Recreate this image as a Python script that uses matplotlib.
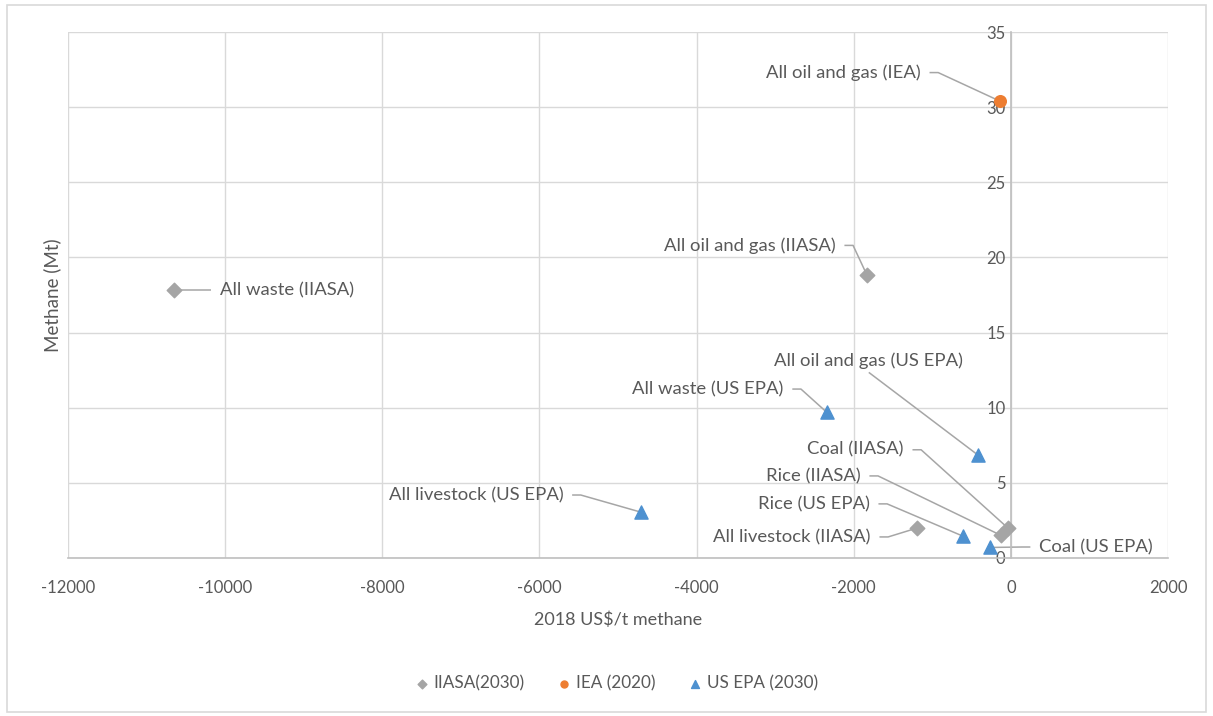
import matplotlib
matplotlib.use("Agg")
import matplotlib.pyplot as plt
from matplotlib.patches import Rectangle

plt.rcParams['font.family'] = ['Lato', 'DejaVu Sans']
plt.rcParams['axes.unicode_minus'] = False

# Abatement cost (2018 US$/t methane) and potential (Mt methane)
iiasa_labels = ["All waste (IIASA)", "All oil and gas (IIASA)", "All livestock (IIASA)",
                "Coal (IIASA)", "Rice (IIASA)"]
iiasa_cost = [-10650, -1830, -1190, -40, -125]
iiasa_mt = [17.8, 18.8, 2.0, 2.0, 1.5]

iea_labels = ["All oil and gas (IEA)"]
iea_cost = [-140]
iea_mt = [30.4]

epa_labels = ["All waste (US EPA)", "All oil and gas (US EPA)", "All livestock (US EPA)",
              "Rice (US EPA)", "Coal (US EPA)"]
epa_cost = [-2345, -420, -4710, -610, -270]
epa_mt = [9.7, 6.85, 3.05, 1.45, 0.7]

x_ticks = [-12000, -10000, -8000, -6000, -4000, -2000, 0, 2000]
y_ticks = [0, 5, 10, 15, 20, 25, 30, 35]

GRAY = "#a5a5a5"
ORANGE = "#ed7d31"
BLUE = "#4e91d0"
TEXT = "#595959"
GRID = "#d9d9d9"
LEADER = "#a6a6a6"

fig = plt.figure(figsize=(12.13, 7.16), dpi=100)
fig.patches.append(Rectangle((0.006, 0.006), 0.988, 0.987, transform=fig.transFigure,
                             fill=False, edgecolor="#d9d9d9", linewidth=1.2))
ax = fig.add_axes([0.056, 0.2207, 0.907, 0.7346])

ax.set_xlim(-12000, 2000)
ax.set_ylim(0, 35)
ax.set_xticks(x_ticks)
ax.set_yticks(y_ticks)
ax.grid(True, color=GRID, linewidth=1.0)
ax.set_axisbelow(True)

for s in ["top", "right"]:
    ax.spines[s].set_visible(False)
ax.spines["left"].set_position(("data", 0))
ax.spines["left"].set_color("#bfbfbf")
ax.spines["bottom"].set_color("#bfbfbf")
ax.spines["left"].set_linewidth(1.2)
ax.spines["bottom"].set_linewidth(1.2)
ax.tick_params(axis="both", length=0, colors=TEXT, labelsize=12)
ax.tick_params(axis="x", pad=16)
ax.tick_params(axis="y", pad=4)

ax.set_xlabel("2018 US$/t methane", color=TEXT, fontsize=13, labelpad=11)
ax.set_ylabel("Methane (Mt)", color=TEXT, fontsize=13.5)
ax.yaxis.set_label_coords(-0.006, 0.5)

ax.scatter(iiasa_cost, iiasa_mt, marker="D", s=55, color=GRAY, label="IIASA(2030)", zorder=3)
ax.scatter(iea_cost, iea_mt, marker="o", s=70, color=ORANGE, label="IEA (2020)", zorder=3)
ax.scatter(epa_cost, epa_mt, marker="^", s=90, color=BLUE, label="US EPA (2030)", zorder=3)

# Data-label placement: (text anchor x, text y, alignment)
label_pos = {
    "All waste (IIASA)": (-10064, 17.8, "left"),
    "All oil and gas (IIASA)": (-2229, 20.8, "right"),
    "All livestock (IIASA)": (-1783, 1.4, "right"),
    "Coal (IIASA)": (-1363, 7.2, "right"),
    "Rice (IIASA)": (-1911, 5.46, "right"),
    "All oil and gas (IEA)": (-1146, 32.3, "right"),
    "All waste (US EPA)": (-2892, 11.24, "right"),
    "All oil and gas (US EPA)": (-1809, 13.1, "center"),
    "All livestock (US EPA)": (-5694, 4.19, "right"),
    "Rice (US EPA)": (-1796, 3.6, "right"),
    "Coal (US EPA)": (357, 0.73, "left"),
}

GAP, STUB = 110, 110

points = list(zip(iiasa_labels, iiasa_cost, iiasa_mt)) + \
    list(zip(iea_labels, iea_cost, iea_mt)) + \
    list(zip(epa_labels, epa_cost, epa_mt))

for name, px, py in points:
    tx, ty, ha = label_pos[name]
    ax.text(tx, ty, name, ha=ha, va="center", fontsize=13.3, color=TEXT, zorder=4)
    if ha == "right":
        x0 = tx + GAP
        xs, ys = [x0, x0 + STUB, px], [ty, ty, py]
    elif ha == "left":
        x0 = tx - GAP
        xs, ys = [x0, x0 - STUB, px], [ty, ty, py]
    else:
        xs, ys = [tx, px], [ty - 0.75, py]
    ax.plot(xs, ys, color=LEADER, linewidth=1.1, zorder=2, solid_capstyle="butt")

leg = fig.legend(loc="center", bbox_to_anchor=(0.508, 0.046), ncol=3, frameon=False,
                 fontsize=12.3, handlelength=0.8, handletextpad=0.3, columnspacing=1.9,
                 markerscale=0.6)
for t in leg.get_texts():
    t.set_color(TEXT)

fig.savefig("out.png", dpi=100)
